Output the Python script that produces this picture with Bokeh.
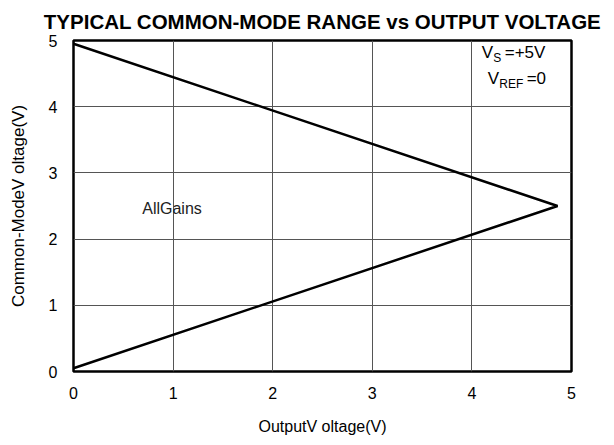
from bokeh.plotting import figure
from bokeh.models import Label, FixedTicker, Range1d
from bokeh.embed import file_html
from bokeh.resources import INLINE

# Data
output_v = [0.0, 4.86, 0.0]
common_v = [4.95, 2.5, 0.05]
x_ticks = [0, 1, 2, 3, 4, 5]
y_ticks = [0, 1, 2, 3, 4, 5]

FONT = "Liberation Sans"

p = figure(width=606, height=437, output_backend="svg", toolbar_location=None,
           x_range=Range1d(0, 5), y_range=Range1d(0, 5),
           min_border_left=73, min_border_right=35, min_border_bottom=63, min_border_top=40,
           title="TYPICAL COMMON-MODE RANGE vs OUTPUT VOLTAGE")

p.title.text_font = FONT
p.title.text_font_size = "20.5px"
p.title.text_font_style = "bold"
p.title.align = "center"
p.title.offset = 4
p.title.text_color = "black"
p.title.standoff = 15

p.line(output_v, common_v, line_color="black", line_width=2.5)

for ax in (p.xaxis, p.yaxis):
    ax.axis_line_color = None
    ax.major_tick_line_color = None
    ax.minor_tick_line_color = None
    ax.major_tick_out = 0
    ax.major_tick_in = 0
    ax.major_label_text_font = FONT
    ax.major_label_text_font_size = "16px"
    ax.major_label_text_color = "black"
    ax.axis_label_text_font = FONT
    ax.axis_label_text_font_size = "16px"
    ax.axis_label_text_font_style = "normal"
    ax.axis_label_text_color = "black"

p.yaxis.axis_label_text_font_size = "17px"
p.xaxis.ticker = FixedTicker(ticks=x_ticks)
p.yaxis.ticker = FixedTicker(ticks=y_ticks)
p.xaxis.axis_label = "OutputV oltage(V)"
p.yaxis.axis_label = "Common-ModeV oltage(V)"
p.xaxis.major_label_standoff = 15
p.yaxis.major_label_standoff = 16
p.xaxis.axis_label_standoff = 16
p.yaxis.axis_label_standoff = 18

p.grid.grid_line_color = "#555555"
p.grid.grid_line_width = 1
p.grid.grid_line_alpha = 1.0

p.outline_line_color = "black"
p.outline_line_width = 2.5
p.outline_line_alpha = 1.0

# Annotations
p.add_layout(Label(x=0.69, y=2.46, text="AllGains", text_font=FONT, text_font_size="16px",
                   text_baseline="middle", text_align="left", text_color="#222222"))

p.add_layout(Label(x=4.10, y=4.82, text="V", text_font=FONT, text_font_size="17px",
                   text_baseline="middle", text_color="black"))
p.add_layout(Label(x=4.215, y=4.73, text="S", text_font=FONT, text_font_size="12px",
                   text_baseline="middle", text_color="black"))
p.add_layout(Label(x=4.33, y=4.82, text="=+5V", text_font=FONT, text_font_size="17px",
                   text_baseline="middle", text_color="black"))

p.add_layout(Label(x=4.16, y=4.43, text="V", text_font=FONT, text_font_size="17px",
                   text_baseline="middle", text_color="black"))
p.add_layout(Label(x=4.275, y=4.34, text="REF", text_font=FONT, text_font_size="12px",
                   text_baseline="middle", text_color="black"))
p.add_layout(Label(x=4.55, y=4.43, text="=0", text_font=FONT, text_font_size="17px",
                   text_baseline="middle", text_color="black"))

open("out.html", "w").write(file_html(p, INLINE))
